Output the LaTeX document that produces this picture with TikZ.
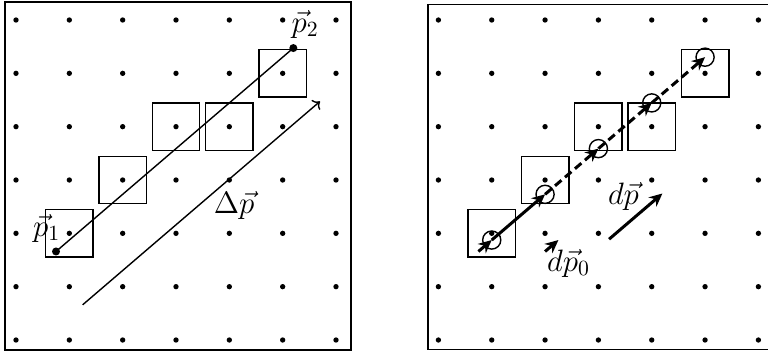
\documentclass[tikz,border=0pt]{standalone}
\usepackage{fix-cm}
\usepackage{amsmath}
\usepackage{tikz}
\usetikzlibrary{arrows.meta,positioning,calc}

\tikzset{
  rahmen/.style={line width=0.9pt},
  zelle/.style={draw,line width=0.75pt},
  gitterpunkt/.style={fill=black},
  vecpfeil/.style={line width=1.6pt,-{Stealth[length=7pt,width=6.5pt]}},
  strich/.style={dash pattern=on 4.5pt off 2.5pt},
  lbl/.style={font=\fontsize{16.5}{19}\selectfont},
}

\begin{document}
\begin{tikzpicture}[x=1cm,y=1cm]
  \useasboundingbox (-0.3,-0.244) rectangle (14.1,6.375);
  % links: p1 -> p2
  \draw[rahmen] (-0.2,-0.19) rectangle (6.28,6.34);
  \foreach \i in {0,...,6} \foreach \j in {0,...,6} \fill[gitterpunkt] (\i,\j) circle (0.05);
  \foreach \i/\j in {1/2,2/3,3/4,4/4,5/5}
    \draw[zelle] (\i-0.445,\j-0.445) rectangle (\i+0.445,\j+0.445);
  \coordinate (p1) at (0.75,1.66); \coordinate (p2) at (5.2,5.474);
  \fill (p1) circle (0.075); \fill (p2) circle (0.075);
  \draw[line width=0.75pt] (p1) -- (p2);
  \coordinate (d1) at ($(p1)+(0.5,-1)$); \coordinate (d2) at ($(p2)+(0.5,-1)$);
  \draw[line width=0.75pt,->] (d1) -- (d2);
  \node[lbl] (lp1) at (0.575,2.1) {$\vec{p}_1$};
  \node[lbl] (lp2) at (5.42,5.92) {$\vec{p}_2$};
  \node[lbl] (ldp) at (4.09,2.53) {$\Delta\vec{p}$};
  % rechts: Schritte dp
  \begin{scope}[xshift=7.92cm]
    \draw[rahmen] (-0.2,-0.18) rectangle (6.28,6.29);
    \foreach \i in {0,...,6} \foreach \j in {0,...,6} \fill[gitterpunkt] (\i,\j) circle (0.05);
    \foreach \i/\j in {1/2,2/3,3/4,4/4,5/5}
      \draw[zelle] (\i-0.445,\j-0.445) rectangle (\i+0.445,\j+0.445);
    \coordinate (q0) at (0.75,1.66);
    \foreach \i in {1,...,5} {
      \coordinate (q\i) at (\i,{1.66+(\i-0.75)*6/7});
      \draw[line width=0.75pt] (q\i) circle (0.17);
    }
    \draw[vecpfeil] (q0) -- (q1);
    \draw[vecpfeil] (q1) -- (q2);
    \foreach \a/\b in {2/3,3/4,4/5} \draw[vecpfeil,strich] (q\a) -- (q\b);
    \coordinate (s0) at ($(q0)+(1.25,0)$); \coordinate (s1) at ($(q1)+(1.25,0)$);
    \draw[vecpfeil] (s0) -- (s1);
    \coordinate (t0) at (3.2,1.89); \coordinate (t1) at (4.2,2.747);
    \draw[vecpfeil] (t0) -- (t1);
    \node[lbl] (ldp0) at (2.44,1.44) {$d\vec{p}_0$};
    \node[lbl] (ldpv) at (3.47,2.69) {$d\vec{p}$};
  \end{scope}
\end{tikzpicture}
\end{document}
